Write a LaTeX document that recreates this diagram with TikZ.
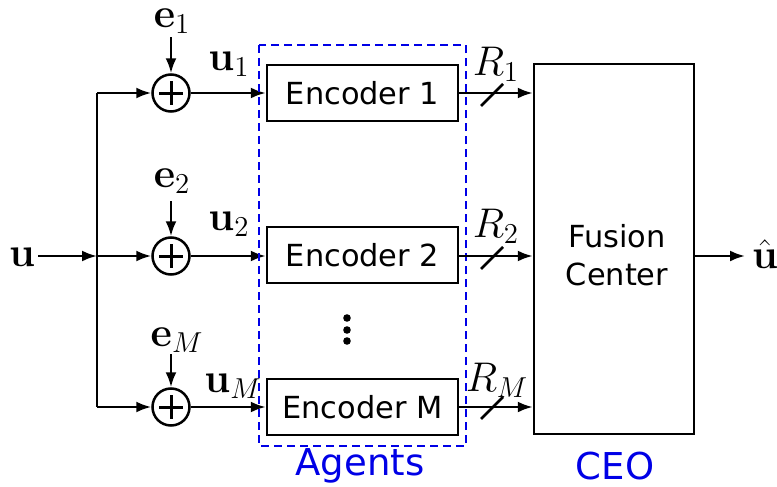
\documentclass[tikz,border=0pt]{standalone}
\usepackage{amsmath}
\usepackage[no-math]{fontspec}
\setmainfont{DejaVu Sans}
\usetikzlibrary{arrows.meta}
\definecolor{agblue}{RGB}{0,0,230}
\begin{document}
\begin{tikzpicture}[x=0.5pt,y=-0.5pt,
  line width=1.25pt,
  arr/.style={-{Latex[length=7.5pt,width=5.5pt]}},
  sumnode/.style={circle,draw,minimum size=18.5pt,inner sep=0pt},
  encbox/.style={draw,minimum width=95.5pt,minimum height=28pt,inner sep=0pt,font=\fontsize{15.2}{18}\selectfont},
  mlabel/.style={inner sep=0pt,font=\fontsize{20}{24}\selectfont},
  bluetext/.style={text=agblue,inner sep=0pt,font=\fontsize{18.5}{22}\selectfont}]
\useasboundingbox (0,0) rectangle (777,487);
% input
\node[mlabel] (u) at (22,257) {$\mathbf{u}$};
\coordinate (uin) at (38,256);
\coordinate (split) at (97,256);
\coordinate (top) at (97,93);
\coordinate (bot) at (97,407);
\draw[arr] (uin) -- (split);
\draw (top) -- (bot);
% sums
\node[sumnode] (s1) at (171,93) {};
\node[sumnode] (s2) at (171,256) {};
\node[sumnode] (s3) at (171,407) {};
\foreach \s in {s1,s2,s3}{
  \draw[line width=1.5pt] (\s.center) ++(-12,0) -- ++(24,0);
  \draw[line width=1.5pt] (\s.center) ++(0,-12) -- ++(0,24);
}
\draw[arr] (top) -- (s1);
\draw[arr] (split) -- (s2);
\draw[arr] (bot) -- (s3);
% noises
\node[mlabel] (e1) at (172,21) {$\mathbf{e}_1$};
\node[mlabel] (e2) at (172,181) {$\mathbf{e}_2$};
\node[mlabel] (e3) at (177,340) {$\mathbf{e}_M$};
\coordinate (e1s) at (171,37);
\coordinate (e2s) at (171,201);
\coordinate (e3s) at (171,354);
\draw[arr] (e1s) -- (s1);
\draw[arr] (e2s) -- (s2);
\draw[arr] (e3s) -- (s3);
% encoders
\node[encbox] (enc1) at (362.5,93) {Encoder 1};
\node[encbox] (enc2) at (362.5,255) {Encoder 2};
\node[encbox] (enc3) at (362.5,407) {Encoder M};
\draw[arr] (s1) -- (enc1.west |- s1);
\draw[arr] (s2) -- (enc2.west |- s2);
\draw[arr] (s3) -- (enc3.west |- s3);
\node[mlabel] (u1) at (229,64) {$\mathbf{u}_1$};
\node[mlabel] (u2) at (229,224) {$\mathbf{u}_2$};
\node[mlabel] (u3) at (233,386) {$\mathbf{u}_M$};
% dots
\fill (347,318) circle (1.9pt);
\fill (347,330) circle (1.9pt);
\fill (347,341) circle (1.9pt);
% agents box
\draw[agblue,dashed,dash pattern=on 4pt off 2.5pt] (259,45) rectangle (466,446);
\node[bluetext] (agents) at (360,466) {Agents};
% fusion center
\node[draw,minimum width=80pt,minimum height=185pt,inner sep=0pt] (fc) at (614,249) {};
\node[font=\fontsize{15.2}{19}\selectfont,align=center,inner sep=0pt] (fctext) at (617,255) {Fusion\\Center};
\node[bluetext] (ceo) at (615,466) {CEO};
\draw[arr] (enc1.east |- s1) -- (fc.west |- s1);
\draw[arr] (enc2.east |- s2) -- (fc.west |- s2);
\draw[arr] (enc3.east |- s3) -- (fc.west |- s3);
\foreach \yy in {95,258,408}{
  \draw (481,\yy+11) -- (503,\yy-11);
}
\node[mlabel] (r1) at (496,64) {$R_1$};
\node[mlabel] (r2) at (496,226) {$R_2$};
\node[mlabel] (r3) at (497,380) {$R_M$};
% output
\coordinate (fcout) at (fc.east |- s2);
\coordinate (outend) at (745,256);
\node[mlabel] (uhat) at (765,254) {$\hat{\mathbf{u}}$};
\draw[arr] (fcout) -- (outend);
\end{tikzpicture}
\end{document}
